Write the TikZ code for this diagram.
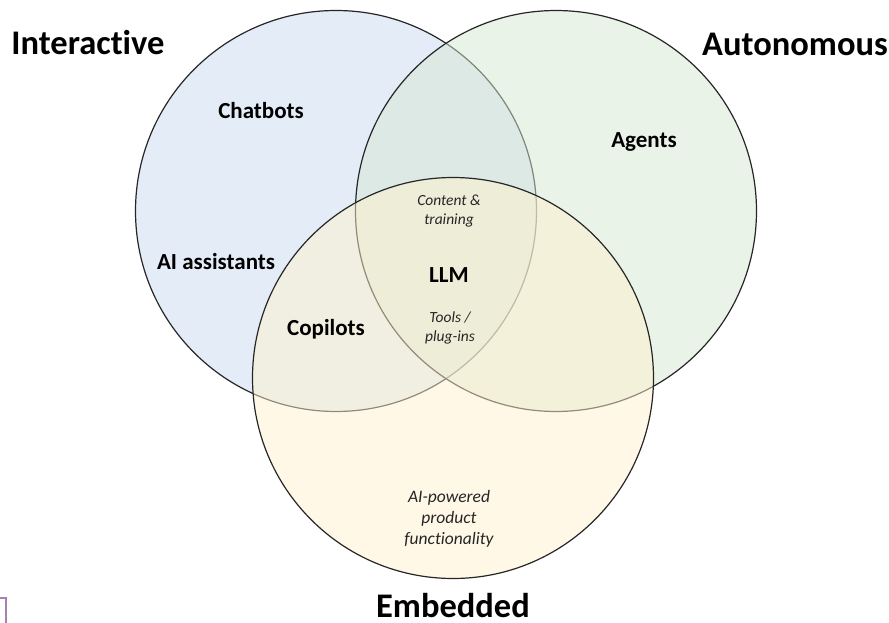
\documentclass[tikz,border=0pt]{standalone}
\usepackage{fontspec}
\setmainfont[Ligatures={NoCommon,NoRare,NoDiscretionary}]{Carlito}
\begin{document}
\begin{tikzpicture}[x=1pt,y=-1pt,
  set/.style={draw=black!85,line width=1.2pt,fill opacity=0.5},
  head/.style={font=\bfseries\fontsize{34.5}{36}\selectfont,inner sep=0pt,anchor=base},
  area/.style={font=\bfseries\fontsize{23}{24}\selectfont,inner sep=0pt},
  note/.style={font=\itshape\fontsize{15.5}{19}\selectfont,align=center,inner sep=0pt,text=black!85},
  bignote/.style={note,font=\itshape\fontsize{17.5}{21}\selectfont}]
\definecolor{interblue}{RGB}{201,217,239}
\definecolor{autogreen}{RGB}{213,231,209}
\definecolor{embedyellow}{RGB}{255,241,205}
\definecolor{markpurple}{RGB}{165,130,175}
\useasboundingbox (0,0) rectangle (889,623);
% the three sets
\draw[set,fill=interblue] (336,211) circle[radius=200.5pt];
\draw[set,fill=autogreen] (556,211) circle[radius=200.5pt];
\draw[set,fill=embedyellow] (453,378) circle[radius=200.5pt];
% set titles
\node[head] (interactive) at (88,55) {Interactive};
\node[head] (autonomous) at (795,56) {Autonomous};
\node[head] (embedded) at (453,617) {Embedded};
% members
\node[area] (chatbots) at (261,111) {Chatbots};
\node[area] (assistants) at (216,262) {AI assistants};
\node[area] (agents) at (644,142) {Agents};
\node[area] (copilots) at (326,329) {Copilots};
\node[area] (llm) at (449,275) {LLM};
\node[note] (content) at (449,211) {Content \&\\training};
\node[note] (tools) at (450,328) {Tools /\\plug-ins};
\node[bignote] (product) at (449,519) {AI-powered\\product\\functionality};
% corner mark
\draw[markpurple,line width=1.5pt] (0,598) -- (6,598) -- (6,623);
\end{tikzpicture}
\end{document}
